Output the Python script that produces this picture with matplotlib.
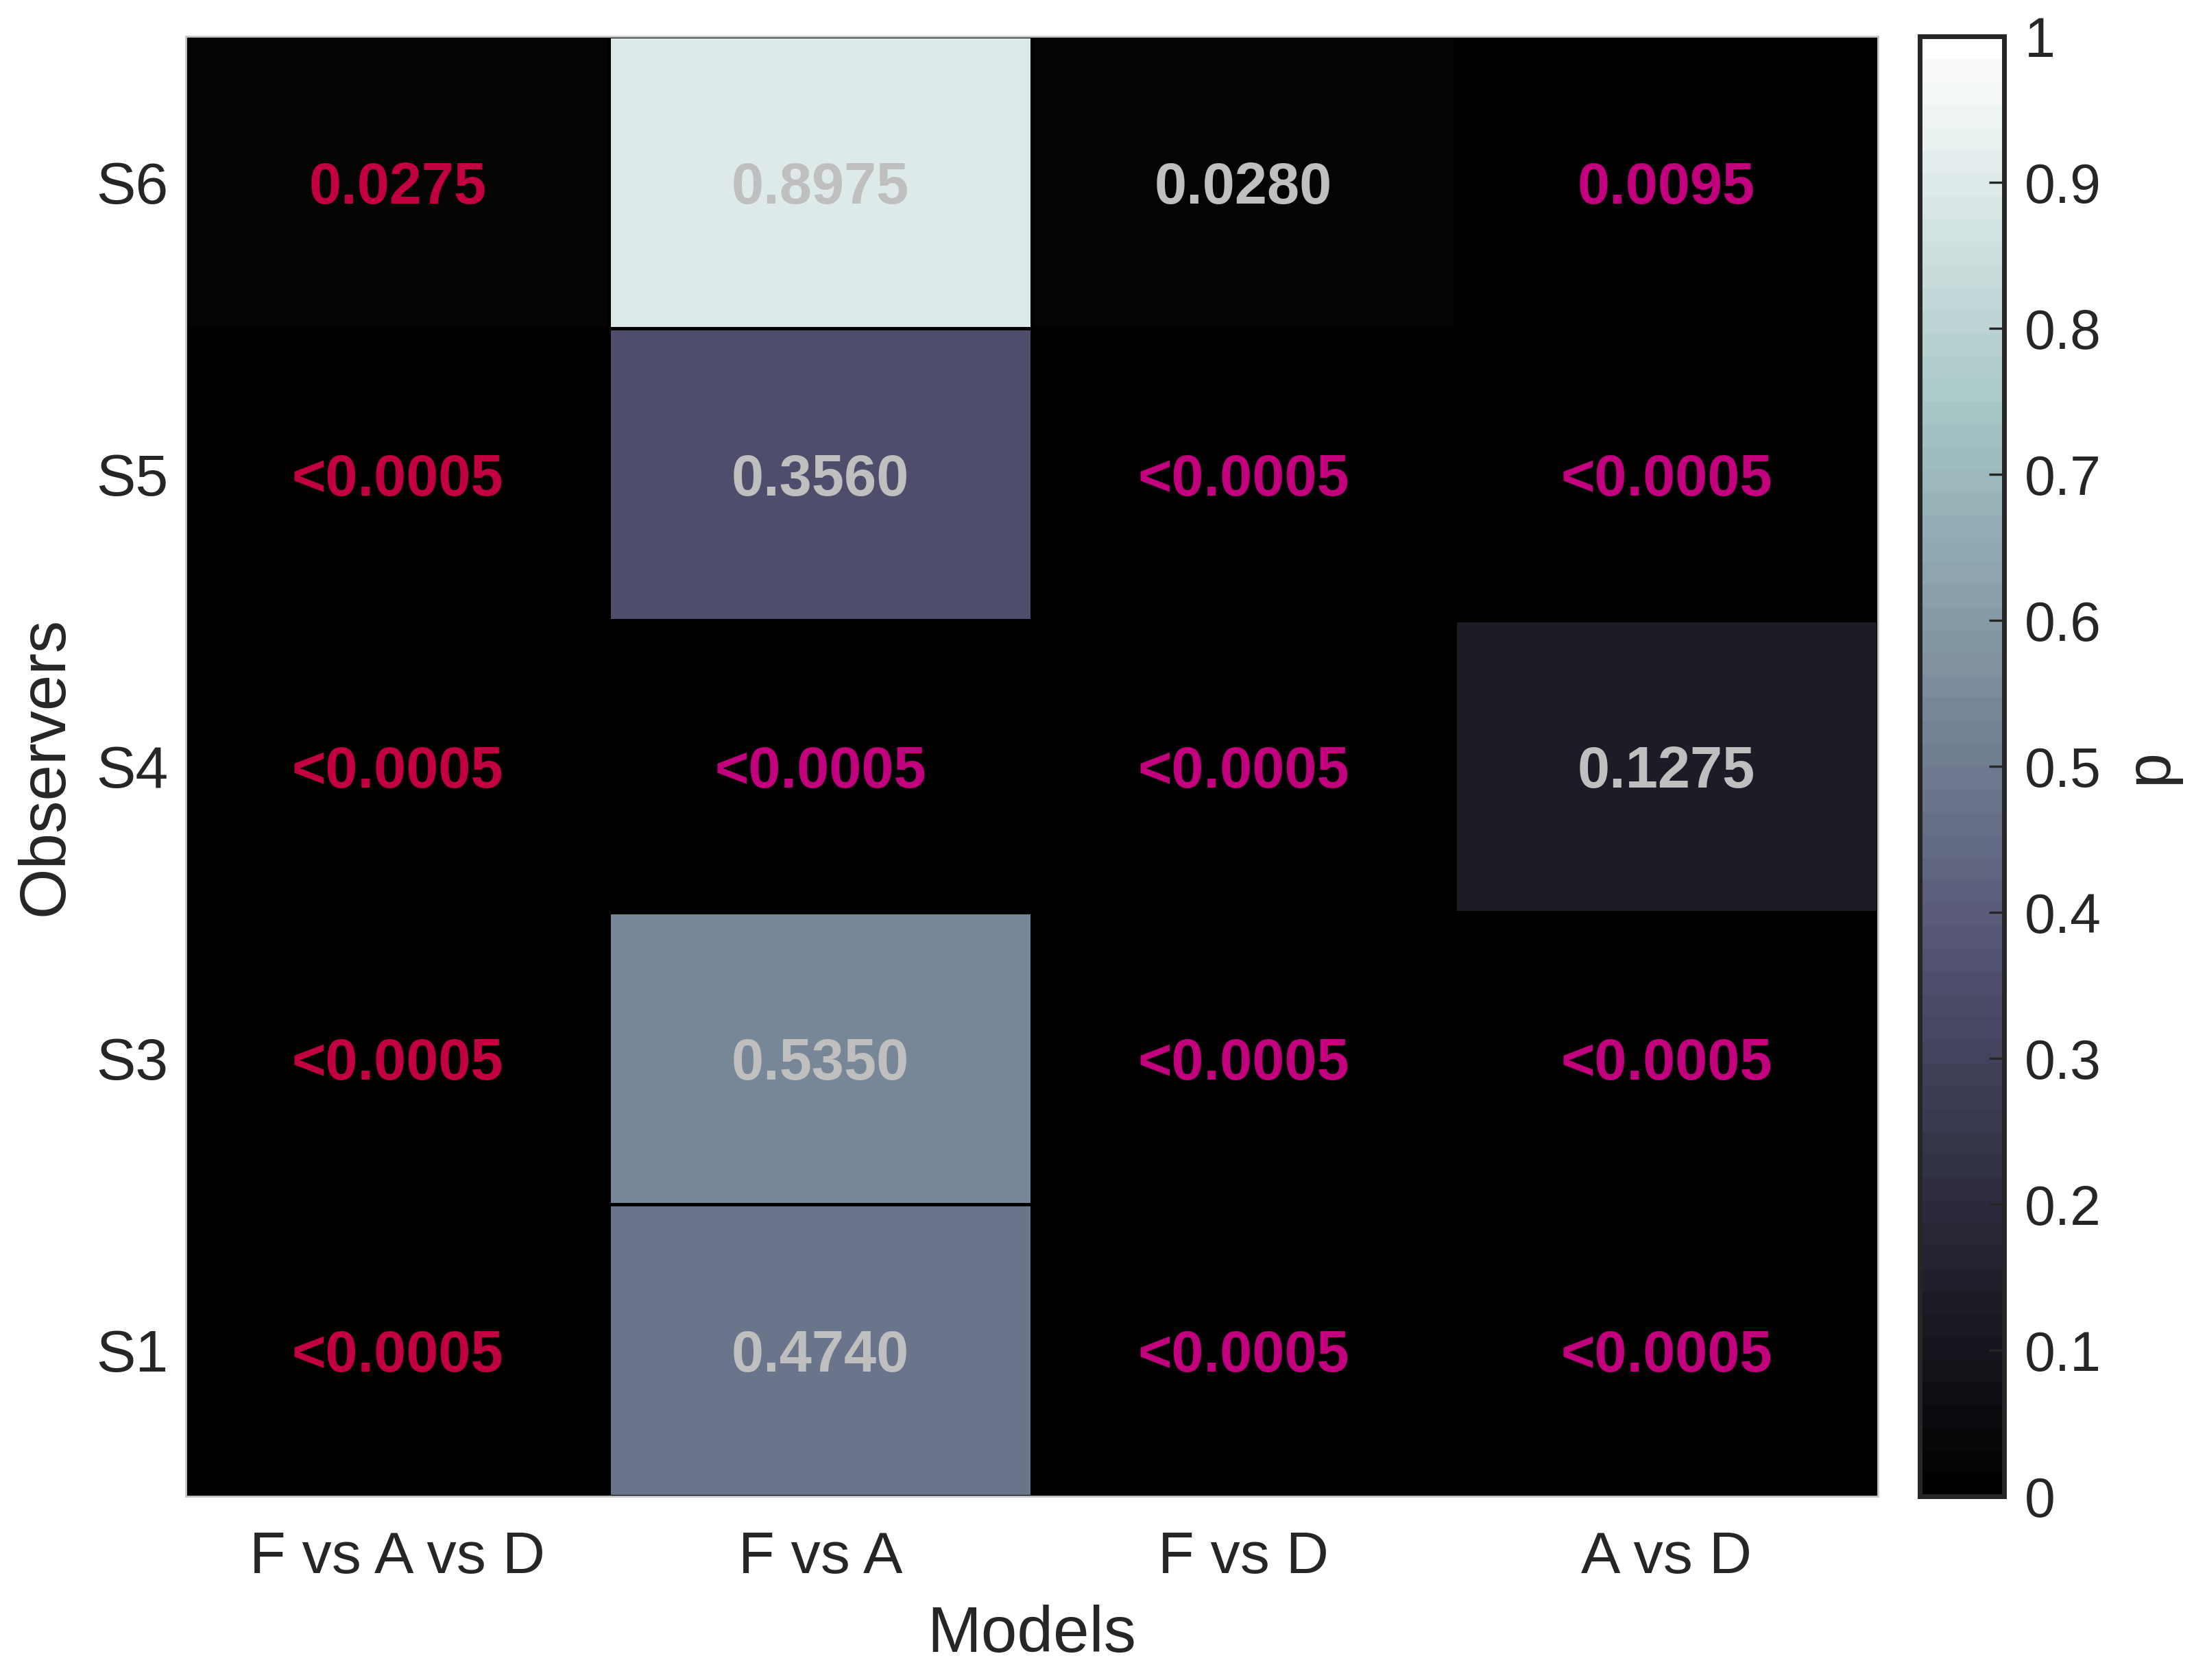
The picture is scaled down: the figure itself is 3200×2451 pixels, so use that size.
import numpy as np
import matplotlib
matplotlib.use("Agg")
import matplotlib.pyplot as plt

plt.rcParams['font.family'] = ['Liberation Sans', 'DejaVu Sans']

models = ["F vs A vs D", "F vs A", "F vs D", "A vs D"]
observers = ["S6", "S5", "S4", "S3", "S1"]

# p values, rows top to bottom as in observers
p_values = np.array([
    [0.0275, 0.8975, 0.0280, 0.0095],
    [0.0, 0.3560, 0.0, 0.0],
    [0.0, 0.0, 0.0, 0.1275],
    [0.0, 0.5350, 0.0, 0.0],
    [0.0, 0.4740, 0.0, 0.0],
])
p_labels = [
    ["0.0275", "0.8975", "0.0280", "0.0095"],
    ["<0.0005", "0.3560", "<0.0005", "<0.0005"],
    ["<0.0005", "<0.0005", "<0.0005", "0.1275"],
    ["<0.0005", "0.5350", "<0.0005", "<0.0005"],
    ["<0.0005", "0.4740", "<0.0005", "<0.0005"],
]
# s = significant after correction, n = not significant
signif = [
    "snns",
    "snss",
    "sssn",
    "snss",
    "snss",
]

red = "#C2003F"
magenta = "#C2007E"
gray = "#BFBFBF"

fig = plt.figure(figsize=(16, 12.255), dpi=200)
ax = fig.add_axes([0.0848, 0.1092, 0.7711, 0.8691])
cax = fig.add_axes([0.875, 0.1092, 0.0383, 0.8691])

cmap = plt.get_cmap('bone', 64)
nr, nc = p_values.shape
mesh = ax.pcolormesh(np.arange(nc + 1), np.arange(nr + 1), p_values,
                     cmap=cmap, vmin=0, vmax=1, edgecolor='black', linewidth=1.2)
ax.set_xlim(0, nc)
ax.set_ylim(nr, 0)

for i in range(nr):
    for j in range(nc):
        if signif[i][j] == "n":
            col = gray
        elif j == 0:
            col = red
        else:
            col = magenta
        ax.text(j + 0.5, i + 0.5, p_labels[i][j], ha='center', va='center_baseline',
                color=col, fontsize=30.5, fontweight='bold')

ax.set_xticks(np.arange(nc) + 0.5)
ax.set_xticklabels(models, fontsize=31, color='#262626')
ax.set_yticks(np.arange(nr) + 0.5)
ax.set_yticklabels(observers, fontsize=31, color='#262626')
ax.tick_params(axis='x', length=0, pad=18)
ax.tick_params(axis='y', length=0, pad=9.5)
ax.set_xlabel("Models", fontsize=34, color='#262626', labelpad=10)
ax.set_ylabel("Observers", fontsize=34, color='#262626', labelpad=10)
for s in ax.spines.values():
    s.set_color('#C8C8C8')
    s.set_linewidth(1.0)

cb = fig.colorbar(mesh, cax=cax)
cb.set_ticks(np.arange(0, 1.01, 0.1))
cb.set_ticklabels(["0", "0.1", "0.2", "0.3", "0.4", "0.5", "0.6", "0.7", "0.8", "0.9", "1"])
cax.tick_params(direction='in', length=8, width=1.2, color='#262626',
                labelsize=29, labelcolor='#262626', pad=11)
cb.outline.set_edgecolor('#262626')
cb.outline.set_linewidth(2.5)
cb.set_label("p", fontsize=33, color='#262626', rotation=90, labelpad=10)

fig.savefig("out.png", dpi=200)
